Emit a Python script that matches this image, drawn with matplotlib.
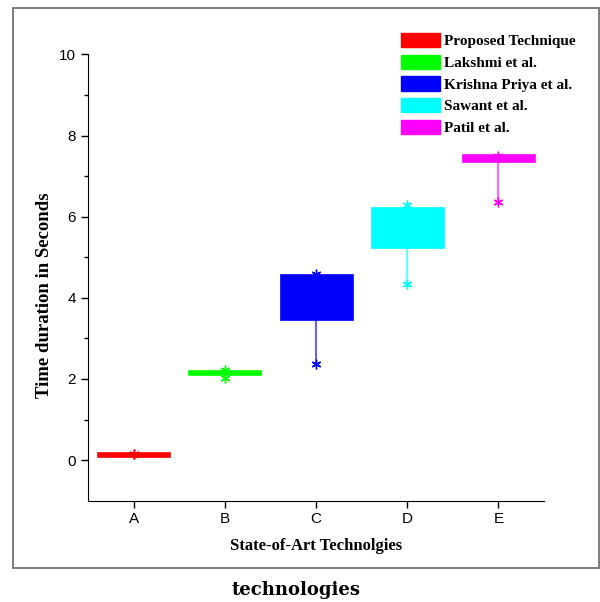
import matplotlib
matplotlib.use('Agg')
import matplotlib.pyplot as plt
from matplotlib.patches import Patch, Rectangle

# Datos
categories = ['A', 'B', 'C', 'D', 'E']
series_names = ['Proposed Technique', 'Lakshmi et al.', 'Krishna Priya et al.',
                'Sawant et al.', 'Patil et al.']
colors = ['#ff0000', '#00ff00', '#0000ff', '#00ffff', '#ff00ff']
box_low = [0.08, 2.09, 3.46, 5.23, 7.34]
box_high = [0.20, 2.23, 4.58, 6.25, 7.54]
data_min = [0.14, 2.03, 2.37, 4.34, 6.36]
data_max = [0.16, 2.23, 4.59, 6.29, 7.50]

serif = ['Liberation Serif', 'DejaVu Serif']
sans = ['Liberation Sans', 'DejaVu Sans']

fig = plt.figure(figsize=(6.0, 6.02), dpi=100)
ax = fig.add_axes([0.1467, 0.1683, 0.76, 0.7413])

x = list(range(1, len(categories) + 1))
heights = [h - l for l, h in zip(box_low, box_high)]

for i in range(len(categories)):
    # bigotes
    ax.vlines(x[i], data_min[i], box_low[i], color=colors[i], alpha=0.6, lw=1.5, zorder=1)
    ax.vlines(x[i], box_high[i], data_max[i], color=colors[i], alpha=0.6, lw=1.5, zorder=1)

ax.bar(x, heights, bottom=box_low, width=0.8, color=colors, edgecolor=colors,
       linewidth=0.5, zorder=2)

for i in range(len(categories)):
    ax.plot([x[i], x[i]], [data_min[i], data_max[i]], ls='none', marker=(6, 2, 0),
            ms=7, mew=1.0, color=colors[i], zorder=3)

ax.set_xlim(0.5, 5.5)
ax.set_ylim(-1, 10)
ax.set_xticks(x)
ax.set_xticklabels(categories, family=sans, fontsize=11)
ax.set_yticks([0, 2, 4, 6, 8, 10])
ax.set_yticks([1, 3, 5, 7, 9], minor=True)
for lbl in ax.get_yticklabels():
    lbl.set_family(sans)
    lbl.set_fontsize(11)
ax.tick_params(axis='both', which='major', direction='out', length=5, width=1)
ax.tick_params(axis='y', which='minor', direction='out', length=3, width=1)
ax.spines['top'].set_visible(False)
ax.spines['right'].set_visible(False)
ax.spines['left'].set_bounds(-1, 10)

ax.set_xlabel('State-of-Art Technolgies', family=serif, fontweight='bold',
              fontsize=12, labelpad=8)
ax.set_ylabel('Time duration in Seconds', family=serif, fontweight='bold',
              fontsize=13.5)
ax.yaxis.set_label_coords(-0.077, 0.46)

handles = [Patch(facecolor=c, edgecolor=c) for c in colors]
leg = fig.legend(handles, series_names, loc='upper left', bbox_to_anchor=(0.655, 0.958),
                 frameon=False, borderpad=0, handlelength=2.55, handleheight=1.05,
                 handletextpad=0.3, labelspacing=0.42,
                 prop={'family': serif, 'weight': 'bold', 'size': 11})

# marco exterior
fig.patches.append(Rectangle((13 / 600, 1 - 568 / 602), 586 / 600, 560 / 602,
                             transform=fig.transFigure, fill=False,
                             edgecolor='#666666', lw=1.2))

fig.text(296 / 600, 1 - 590 / 602, 'technologies', ha='center', va='center',
         family=['DejaVu Serif'], fontweight='bold', fontsize=13)

fig.savefig('out.png', dpi=100)
